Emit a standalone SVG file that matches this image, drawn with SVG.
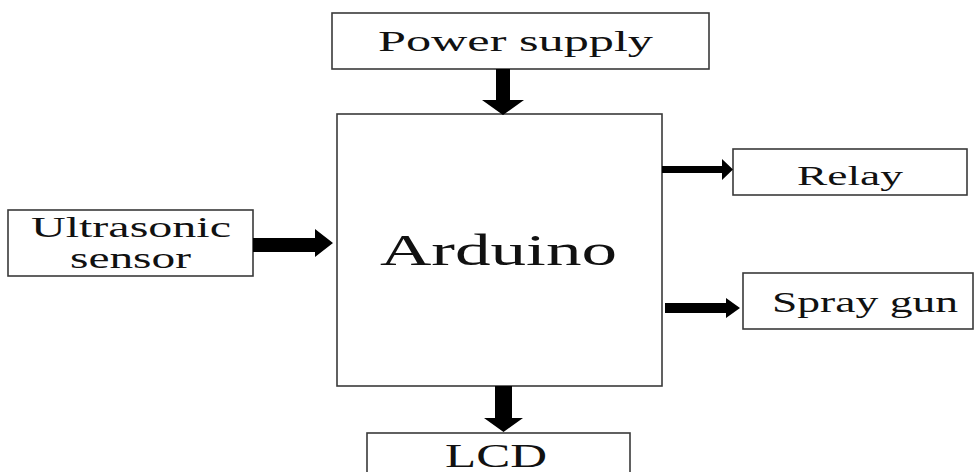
<svg xmlns="http://www.w3.org/2000/svg" width="975" height="472" viewBox="0 0 975 472">
<style>
.box{fill:#fff;stroke:#3a3a3a;stroke-width:1.6}
.t{font-family:"Liberation Serif","Times New Roman",serif;fill:#111}
.arr{fill:#000}
</style>
<rect width="975" height="472" fill="#fff"/>
<g id="power">
<rect class="box" x="332" y="13" width="377" height="56"/>
<text class="t" x="378" y="51" font-size="30" textLength="275" lengthAdjust="spacingAndGlyphs">Power supply</text>
</g>
<g id="arduino">
<rect class="box" x="337" y="114" width="325" height="272"/>
<text class="t" x="380" y="265" font-size="45" textLength="237" lengthAdjust="spacingAndGlyphs">Arduino</text>
</g>
<g id="ultrasonic">
<rect class="box" x="8" y="210" width="245" height="66"/>
<text class="t" x="31" y="237" font-size="29" textLength="200" lengthAdjust="spacingAndGlyphs">Ultrasonic</text>
<text class="t" x="70" y="268" font-size="29" textLength="121" lengthAdjust="spacingAndGlyphs">sensor</text>
</g>
<g id="relay">
<rect class="box" x="733" y="149" width="234" height="46"/>
<text class="t" x="797" y="185" font-size="27" textLength="106" lengthAdjust="spacingAndGlyphs">Relay</text>
</g>
<g id="spray">
<rect class="box" x="743" y="273" width="230" height="56"/>
<text class="t" x="772" y="312" font-size="29" textLength="186" lengthAdjust="spacingAndGlyphs">Spray gun</text>
</g>
<g id="lcd">
<rect class="box" x="367" y="433" width="263" height="50"/>
<text class="t" x="445" y="467" font-size="34" textLength="102" lengthAdjust="spacingAndGlyphs">LCD</text>
</g>
<g id="connectors">
<polygon class="arr" points="496,69 510,69 510,100 524,100 503,115 482,100 496,100"/>
<polygon class="arr" points="495,386 512,386 512,418 523,418 503.5,432 484,418 495,418"/>
<polygon class="arr" points="253,238 315,238 315,229 333,243 315,257 315,252 253,252"/>
<polygon class="arr" points="662,166 722,166 722,159 733,169.5 722,180 722,173 662,173"/>
<polygon class="arr" points="665,303 726,303 726,298 740,308 726,318 726,313 665,313"/>
</g>
</svg>
